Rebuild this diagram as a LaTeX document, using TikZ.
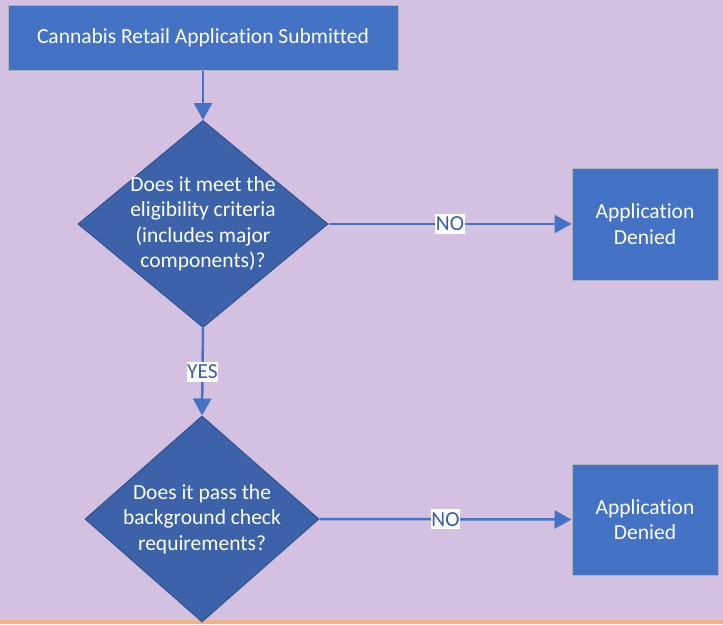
\documentclass[tikz,border=0pt]{standalone}
\usepackage{fontspec}
\setmainfont{Carlito}[Ligatures=NoCommon]
\usetikzlibrary{shapes.geometric,arrows.meta}
\definecolor{bgLav}{HTML}{D4C0E1}
\definecolor{boxBlue}{HTML}{4472C4}
\definecolor{dmBlue}{HTML}{3C62AA}
\definecolor{dmEdge}{HTML}{2F528F}
\definecolor{boxEdge}{HTML}{A9B4C2}
\definecolor{lblBlue}{HTML}{3A5FA8}
\definecolor{baseOr}{HTML}{F4B183}
\begin{document}
\begin{tikzpicture}[x=1pt,y=-1pt,
  every node/.style={font=\fontsize{21.5}{25.5}\selectfont},
  procbox/.style={rectangle,fill=boxBlue,draw=boxEdge,line width=1pt,text=white,align=center,inner sep=0pt},
  decide/.style={diamond,fill=dmBlue,draw=dmEdge,line width=1pt,inner sep=0pt},
  dtext/.style={text=white,align=center,inner sep=0pt},
  flow/.style={draw=boxBlue,line width=2.5pt,-{Triangle[width=18pt,length=17pt]}},
  answer/.style={fill=white,text=lblBlue,inner xsep=0.5pt,inner ysep=3pt}]
\useasboundingbox (0,0) rectangle (723,624);
\fill[bgLav] (0,0) rectangle (723,624);
\fill[baseOr] (0,620) rectangle (723,624);
% boxes
\node[procbox,minimum width=390pt,minimum height=65pt] (sub) at (203,37.5) {Cannabis Retail Application Submitted};
\node[decide,minimum width=250pt,minimum height=207pt] (elig) at (203,224) {};
\node[dtext] (eligtx) at (203,224) {Does it meet the\\eligibility criteria\\(includes major\\components)?};
\node[procbox,minimum width=146pt,minimum height=112pt] (deny1) at (645,224) {Application\\Denied};
\node[decide,minimum width=234pt,minimum height=206pt] (bgck) at (202,519) {};
\node[dtext] (bgcktx) at (202,519) {Does it pass the\\background check\\requirements?};
\node[procbox,minimum width=146pt,minimum height=111pt] (deny2) at (645,519.5) {Application\\Denied};
% arrows
\draw[flow] (sub.south) -- (elig.north);
\draw[flow] (elig.east) -- node[answer] (no1) {NO} (deny1.west);
\draw[flow] (elig.south) -- node[answer] (yes) {YES} (bgck.north);
\draw[flow] (bgck.east) -- node[answer] (no2) {NO} (deny2.west);
\end{tikzpicture}
\end{document}
